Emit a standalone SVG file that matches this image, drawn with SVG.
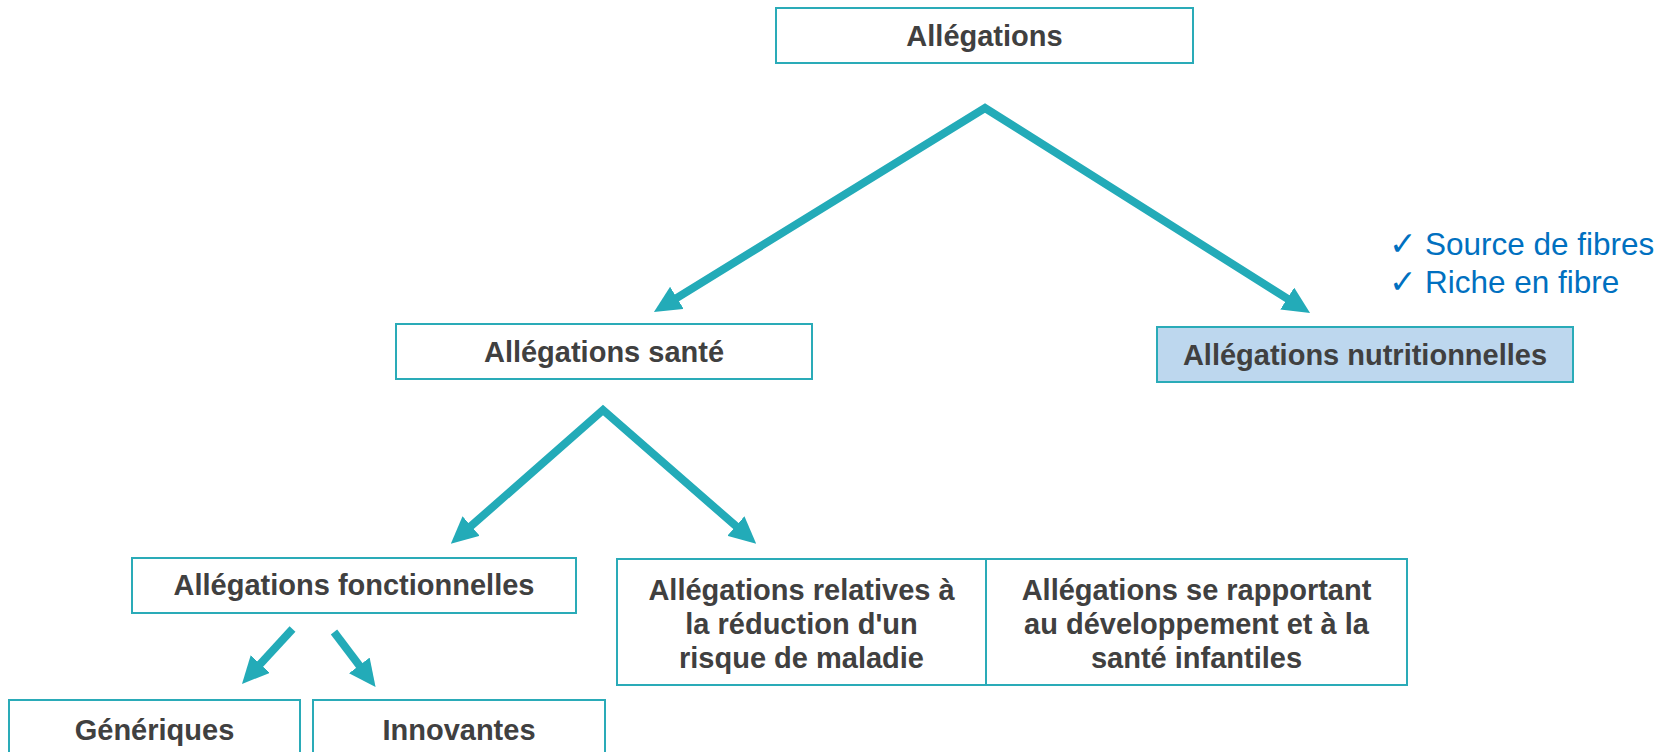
<svg xmlns="http://www.w3.org/2000/svg" width="1677" height="752" viewBox="0 0 1677 752">
  <style>
    .box { fill: #FFFFFF; stroke: #2AABB8; stroke-width: 2; }
    .box.hl { fill: #BDD7EE; }
    .lbl { font-family: "Liberation Sans", Arial, sans-serif; font-weight: bold; font-size: 29px; fill: #404040; text-anchor: middle; }
    .note { font-family: "Liberation Sans", Arial, sans-serif; font-size: 31.5px; fill: #0070C0; }
    .chk { font-family: "DejaVu Sans", sans-serif; font-size: 33px; }
    .arrow { fill: none; stroke: #23ABB8; stroke-width: 8; stroke-linejoin: miter; stroke-miterlimit: 10; }
  </style>
  <defs>
    <marker id="head" markerUnits="userSpaceOnUse" markerWidth="27" markerHeight="26" viewBox="0 0 27 26" refX="10" refY="13" orient="auto-start-reverse">
      <path d="M0,0 L27,13 L0,26 Z" fill="#23ABB8"/>
    </marker>
  </defs>
  <rect width="1677" height="752" fill="#FFFFFF"/>

  <g id="connectors">
    <path class="arrow" d="M668.4,303.1 L985,108 L1295.7,303.9" marker-start="url(#head)" marker-end="url(#head)"/>
    <path class="arrow" d="M463.6,532.6 L603,410 L743.4,532.6" marker-start="url(#head)" marker-end="url(#head)"/>
    <path class="arrow" d="M292.5,629 L253.5,671.4" marker-end="url(#head)"/>
    <path class="arrow" d="M334,632 L365.3,673.4" marker-end="url(#head)"/>
  </g>

  <g id="node-allegations">
    <rect class="box" x="776" y="8" width="417" height="55"/>
    <text class="lbl" x="984.5" y="46">Allégations</text>
  </g>

  <g id="node-sante">
    <rect class="box" x="396" y="324" width="416" height="55"/>
    <text class="lbl" x="604" y="362">Allégations santé</text>
  </g>

  <g id="node-nutritionnelles">
    <rect class="box hl" x="1157" y="327" width="416" height="55"/>
    <text class="lbl" x="1365" y="365">Allégations nutritionnelles</text>
  </g>

  <g id="note-fibres">
    <text class="note" y="255"><tspan class="chk" x="1389">✓</tspan><tspan x="1425">Source de fibres</tspan></text>
    <text class="note" y="293"><tspan class="chk" x="1389">✓</tspan><tspan x="1425">Riche en fibre</tspan></text>
  </g>

  <g id="node-fonctionnelles">
    <rect class="box" x="132" y="558" width="444" height="55"/>
    <text class="lbl" x="354" y="595">Allégations fonctionnelles</text>
  </g>

  <g id="node-reduction-risque">
    <rect class="box" x="617" y="559" width="369" height="126"/>
    <text class="lbl" x="801.5" y="600">Allégations relatives à</text>
    <text class="lbl" x="801.5" y="634">la réduction d'un</text>
    <text class="lbl" x="801.5" y="668">risque de maladie</text>
  </g>

  <g id="node-developpement">
    <rect class="box" x="986" y="559" width="421" height="126"/>
    <text class="lbl" x="1196.5" y="600">Allégations se rapportant</text>
    <text class="lbl" x="1196.5" y="634">au développement et à la</text>
    <text class="lbl" x="1196.5" y="668">santé infantiles</text>
  </g>

  <g id="node-generiques">
    <rect class="box" x="9" y="700" width="291" height="70"/>
    <text class="lbl" x="154.5" y="740">Génériques</text>
  </g>

  <g id="node-innovantes">
    <rect class="box" x="313" y="700" width="292" height="70"/>
    <text class="lbl" x="459" y="740">Innovantes</text>
  </g>
</svg>
